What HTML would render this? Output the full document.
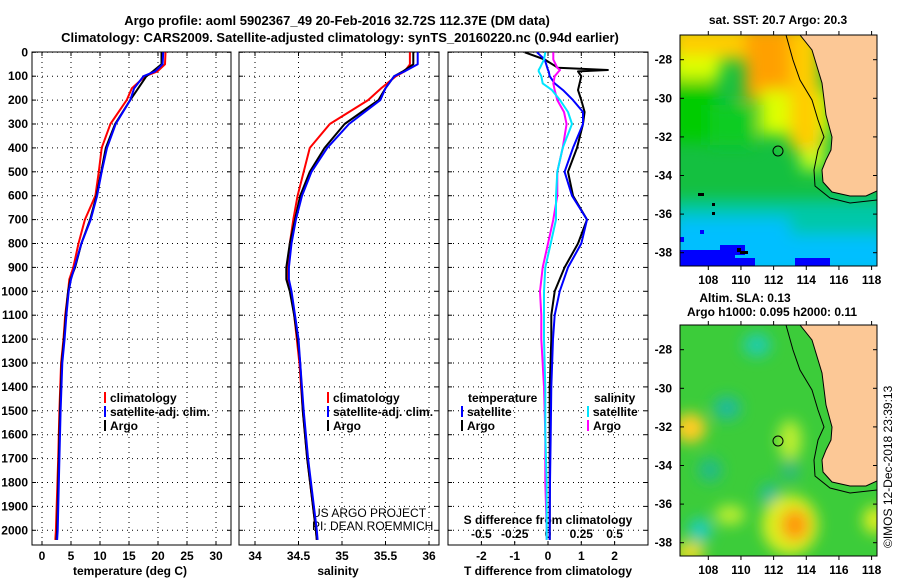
<!DOCTYPE html>
<html><head><meta charset="utf-8"><style>
html,body{margin:0;padding:0;background:#fff;}
svg{display:block;font-family:"Liberation Sans",Arial,sans-serif;font-weight:bold;}
</style></head><body>
<svg id="chart" width="900" height="580" viewBox="0 0 900 580">
<defs>
<filter id="bl" x="-50%" y="-50%" width="200%" height="200%"><feGaussianBlur stdDeviation="7"/></filter>
<filter id="bl2" x="-20%" y="-20%" width="140%" height="140%" filterUnits="objectBoundingBox"><feGaussianBlur stdDeviation="8"/></filter>
<clipPath id="m1"><rect x="680" y="35" width="197" height="231"/></clipPath>
<clipPath id="m2"><rect x="680" y="325" width="197" height="231"/></clipPath>
</defs>
<text x="337" y="25" font-size="13" text-anchor="middle">Argo profile: aoml 5902367_49 20-Feb-2016 32.72S 112.37E (DM data)</text>
<text x="340" y="42" font-size="13" text-anchor="middle">Climatology: CARS2009. Satellite-adjusted climatology: synTS_20160220.nc (0.94d earlier)</text>

<g>
<text x="778" y="24" font-size="12" text-anchor="middle">sat. SST: 20.7 Argo: 20.3</text>
<g clip-path="url(#m1)">
<rect x="680" y="35" width="197" height="231" fill="#14c040"/>
<g filter="url(#bl2)">
<rect x="670" y="200" width="220" height="80" fill="#00c8a8"/>
<rect x="670" y="218" width="120" height="60" fill="#00bfff"/>
<rect x="780" y="235" width="110" height="40" fill="#00bfff"/>
<rect x="670" y="82" width="45" height="60" fill="#00cc00"/>
<rect x="710" y="105" width="45" height="40" fill="#11cc22"/>
<rect x="670" y="25" width="130" height="35" fill="#ffcc00"/>
<rect x="670" y="55" width="50" height="25" fill="#ddff00"/>
<rect x="745" y="25" width="70" height="75" fill="#ffa000"/>
<rect x="760" y="90" width="70" height="45" fill="#ddff00"/>
<rect x="800" y="130" width="25" height="40" fill="#ccff22"/>
<rect x="790" y="30" width="30" height="120" fill="#ffcc00"/>
</g>
<g fill="#0000ff">
<rect x="680" y="250" width="55" height="16"/><rect x="720" y="245" width="25" height="10"/><rect x="735" y="258" width="20" height="8"/>
<rect x="795" y="258" width="35" height="8"/><rect x="680" y="237" width="4" height="5"/><rect x="700" y="230" width="4" height="4"/>
</g>
<g fill="#000"><rect x="698" y="193" width="6" height="3"/><rect x="712" y="203" width="3" height="3"/><rect x="712" y="212" width="3" height="3"/><rect x="737" y="248" width="4" height="4"/><rect x="740" y="251" width="8" height="3"/></g>
<polygon points="800,35 812,50 822,83 826,115 832,137 831,150 826,160 822,170 823,182 832,192 850,196 866,196 877,191 877,35" fill="#fcc896"/>
<polyline points="786,35 793,60 800,80 812,100 818,120 824,137 818,150 814,170 815,186 830,198 850,203 877,200" fill="none" stroke="#000" stroke-width="1"/>
<polyline points="800,35 812,50 822,83 826,115 832,137 831,150 826,160 822,170 823,182 832,192 850,196 866,196 877,191" fill="none" stroke="#000" stroke-width="1"/>
<circle cx="778" cy="151" r="5" fill="none" stroke="#000"/>
</g>
<rect x="680" y="35" width="197" height="231" fill="none" stroke="#000"/>
</g>

<g>
<text x="745" y="302" font-size="12" text-anchor="middle">Altim. SLA: 0.13</text>
<text x="772" y="316" font-size="12" text-anchor="middle">Argo h1000: 0.095 h2000: 0.11</text>
<g clip-path="url(#m2)">
<rect x="680" y="325" width="197" height="231" fill="#3ccc3a"/>
<g filter="url(#bl)">
<ellipse cx="757" cy="345" rx="14" ry="12" fill="#22ccaa"/>
<ellipse cx="727" cy="408" rx="14" ry="12" fill="#22bb99"/>
<ellipse cx="710" cy="470" rx="12" ry="12" fill="#22bb88"/>
<ellipse cx="770" cy="495" rx="10" ry="12" fill="#22bb99"/>
<ellipse cx="700" cy="530" rx="12" ry="12" fill="#22ccbb"/>
<ellipse cx="790" cy="470" rx="10" ry="12" fill="#33bb77"/>
<ellipse cx="690" cy="428" rx="16" ry="15" fill="#ffcc22"/>
<ellipse cx="790" cy="525" rx="28" ry="30" fill="#ddee22"/>
<ellipse cx="795" cy="525" rx="14" ry="16" fill="#ff9911"/>
<ellipse cx="790" cy="440" rx="12" ry="20" fill="#bbee33"/>
<ellipse cx="690" cy="552" rx="15" ry="10" fill="#eedd22"/>
<ellipse cx="875" cy="520" rx="12" ry="14" fill="#ddee22"/>
<ellipse cx="730" cy="515" rx="15" ry="10" fill="#bbee33"/>
</g>
<polygon points="800,325 812,340 822,373 826,405 832,427 831,440 826,450 822,460 823,472 832,482 850,486 866,486 877,481 877,325" fill="#fcc896"/>
<polyline points="786,325 793,350 800,370 812,390 818,410 824,427 818,440 814,460 815,476 830,488 850,493 877,490" fill="none" stroke="#000"/>
<polyline points="800,325 812,340 822,373 826,405 832,427 831,440 826,450 822,460 823,472 832,482 850,486 866,486 877,481" fill="none" stroke="#000"/>
<circle cx="778" cy="441" r="5" fill="none" stroke="#000"/>
</g>
<rect x="680" y="325" width="197" height="231" fill="none" stroke="#000"/>
</g>
<text transform="translate(892,548) rotate(-90)" font-size="12" font-weight="normal">©IMOS 12-Dec-2018 23:39:13</text>
<g id="dyn"></g>
</svg>
<script>
const profDepths=[0,50,80,100,150,200,300,400,500,600,700,800,900,950,1000,1100,1200,1300,1500,1700,2000,2040];
const tempArgo=[20.6,20.6,19.1,18.0,16.6,15.2,12.6,11.0,10.2,9.4,8.3,6.8,5.7,4.9,4.5,4.1,3.8,3.4,3.1,2.9,2.6,2.5];
const tempSat=[20.9,20.8,19.5,17.5,15.9,15.2,12.7,11.2,10.3,9.5,8.4,6.8,5.6,5.0,4.6,4.2,3.9,3.5,3.2,3.0,2.7,2.6];
const tempClim=[21.3,21.2,19.9,17.8,15.5,14.6,11.8,10.3,9.8,9.2,7.4,6.3,5.4,4.7,4.5,4.0,3.7,3.3,3.0,2.8,2.4,2.3];
const salArgo=[35.82,35.82,35.7,35.6,35.5,35.42,35.03,34.8,34.63,34.52,34.46,34.4,34.36,34.36,34.4,34.45,34.49,34.52,34.55,34.6,34.7,34.71];
const salSat=[35.87,35.87,35.72,35.6,35.5,35.44,35.08,34.83,34.65,34.54,34.47,34.42,34.39,34.39,34.42,34.46,34.5,34.52,34.56,34.61,34.71,34.72];
const salClim=[35.78,35.78,35.72,35.62,35.45,35.3,34.86,34.63,34.56,34.49,34.44,34.4,34.38,34.38,34.41,34.45,34.48,34.51,34.55,34.6,34.7,34.71];
const diffDepths=[0,30,65,74,80,100,130,158,200,250,300,400,500,600,700,800,900,1000,1100,1200,1400,1600,1800,2000,2040];
const tDiffArgo=[-0.7,-0.1,0.3,1.8,0.9,1.0,0.95,0.9,1.0,1.1,1.05,0.87,0.6,0.75,1.17,0.9,0.5,0.2,0.1,0.1,0.05,0.05,0.05,0.05,0.05];
const tDiffSat=[-0.33,-0.1,-0.02,0.0,0.02,0.05,0.2,0.45,0.75,1.05,1.05,0.75,0.5,0.72,1.17,1.0,0.6,0.35,0.2,0.15,0.1,0.08,0.06,0.05,0.05];
const sDiffArgo=[0.04,0.04,0.07,0.09,0.08,0.05,0.04,0.05,0.07,0.12,0.14,0.11,0.07,0.07,0.04,0.0,-0.04,-0.06,-0.05,-0.05,-0.03,-0.02,-0.02,-0.01,-0.01];
const sDiffSat=[-0.02,-0.03,-0.06,-0.07,-0.07,-0.05,-0.04,0.03,0.09,0.15,0.18,0.11,0.07,0.06,0.06,0.02,-0.02,-0.03,-0.03,-0.03,-0.02,-0.02,-0.01,-0.01,-0.01];
const depthTicks=[0,100,200,300,400,500,600,700,800,900,1000,1100,1200,1300,1400,1500,1600,1700,1800,1900,2000];
const tempTicks=[0,5,10,15,20,25,30];
const salTicks=[34,34.5,35,35.5,36];
const tDiffTicks=[-2,-1,0,1,2];
const sDiffTicks=[-0.5,-0.25,0,0.25,0.5];
const sDiffTickLabels=["-0.5","-0.25","0","0.25","0.5"];
const latTicks=[-28,-30,-32,-34,-36,-38];
const lonTicks=[108,110,112,114,116,118];

const NS='http://www.w3.org/2000/svg';
const dyn=document.getElementById('dyn');
function mk(tag,attrs,parent){const e=document.createElementNS(NS,tag);for(const k in attrs)e.setAttribute(k,attrs[k]);(parent||dyn).appendChild(e);return e;}
const TOP=52,BOT=545;
function yD(d){return 52.3+d*0.239;}
function xT(t){return 42+t*5.8;}
function xS(s){return 255+(s-34)*87;}
function xTd(v){return 548+v*33.3;}
function xSd(v){return 548+v*133.2;}
function lonX(l){return 708.3+(l-108)*16.33;}
function latY(l,off){return 59.7+(-28-l)*19.3+off;}

const panels=[{x0:32,x1:231,name:'temperature-panel'},{x0:239,x1:439,name:'salinity-panel'},{x0:448,x1:648,name:'difference-panel'}];
panels.forEach((p,i)=>{
  const g=mk('g',{});
  
  
  depthTicks.forEach(d=>{
    const y=yD(d);
    const l=mk('line',{x1:p.x0,x2:p.x1,y1:y,y2:y,stroke:'#000','stroke-dasharray':'1,4','stroke-width':1},g);
    
    
    mk('line',{x1:p.x0,x2:p.x0+4,y1:y,y2:y,stroke:'#000'},g);
    mk('line',{x1:p.x1-4,x2:p.x1,y1:y,y2:y,stroke:'#000'},g);
  });
  let ticks=i===0?tempTicks:i===1?salTicks:tDiffTicks;
  let fx=i===0?xT:i===1?xS:xTd;
  ticks.forEach(t=>{
    const x=fx(t);
    const l=mk('line',{x1:x,x2:x,y1:TOP,y2:BOT,stroke:'#000','stroke-dasharray':'1,4'},g);
    
    
    mk('line',{x1:x,x2:x,y1:BOT-4,y2:BOT,stroke:'#000'},g);
    mk('line',{x1:x,x2:x,y1:TOP,y2:TOP+4,stroke:'#000'},g);
    const tx=mk('text',{x:x,y:560,'font-size':12,'text-anchor':'middle'},g);
    tx.textContent=String(t);
    
    
  });
  const r=mk('rect',{x:p.x0,y:TOP,width:p.x1-p.x0,height:BOT-TOP,fill:'none',stroke:'#000'},g);
  
  
});
depthTicks.forEach(d=>{
  const t=mk('text',{x:28,y:yD(d)+4,'font-size':12,'text-anchor':'end'});
  t.textContent=String(d);
  
  
});
sDiffTicks.forEach((v,i)=>{
  const t=mk('text',{x:xSd(v),y:538,'font-size':12,'text-anchor':'middle'});
  t.textContent=sDiffTickLabels[i];
  
  
});
function label(x,y,txt,name,anchor,size,weight){
  const t=mk('text',{x:x,y:y,'font-size':size||12,'text-anchor':anchor||'middle'});
  if(weight)t.setAttribute('font-weight',weight);
  t.textContent=txt;
  
  
  return t;
}
label(130,575,'temperature (deg C)','x-axis-title-temperature');
label(338,575,'salinity','x-axis-title-salinity');
label(548,575,'T difference from climatology','x-axis-title-t-diff');
label(548,524,'S difference from climatology','s-diff-axis-title');
label(312,517,'US ARGO PROJECT','credit-project','start',12,'normal');
label(312,530,'PI: DEAN ROEMMICH','credit-pi','start',12,'normal');

function series(xs,ds,fx,color,name,w){
  const pts=xs.map((v,i)=>fx(v).toFixed(1)+','+yD(ds[i]).toFixed(1)).join(' ');
  const pl=mk('polyline',{points:pts,fill:'none',stroke:color,'stroke-width':w||2,'stroke-linejoin':'round'});
  
  
}
series(tempClim,profDepths,xT,'#ff0000','temp-climatology-line');
series(tempArgo,profDepths,xT,'#000','temp-argo-line');
series(tempSat,profDepths,xT,'#0000ff','temp-satellite-line');
series(salClim,profDepths,xS,'#ff0000','sal-climatology-line');
series(salArgo,profDepths,xS,'#000','sal-argo-line');
series(salSat,profDepths,xS,'#0000ff','sal-satellite-line');
series(tDiffArgo,diffDepths,xTd,'#000','t-diff-argo-line');
series(tDiffSat,diffDepths,xTd,'#0000ff','t-diff-satellite-line');
series(sDiffArgo,diffDepths,xSd,'#ff00ff','s-diff-argo-line');
series(sDiffSat,diffDepths,xSd,'#00e5ff','s-diff-satellite-line');

function legend(x,y,color,txt,name){
  const g=mk('g',{});
  
  
  mk('rect',{x:x,y:y-10,width:2,height:11,fill:color},g);
  const t=mk('text',{x:x+6,y:y,'font-size':12},g);
  t.textContent=txt;
}
legend(104,402,'#ff0000','climatology','legend-temp-climatology');
legend(104,416,'#0000ff','satellite-adj. clim.','legend-temp-satellite');
legend(104,430,'#000','Argo','legend-temp-argo');
legend(327,402,'#ff0000','climatology','legend-sal-climatology');
legend(327,416,'#0000ff','satellite-adj. clim.','legend-sal-satellite');
legend(327,430,'#000','Argo','legend-sal-argo');
label(468,402,'temperature','legend-diff-temperature-header','start');
legend(461,416,'#0000ff','satellite','legend-tdiff-satellite');
legend(461,430,'#000','Argo','legend-tdiff-argo');
label(594,402,'salinity','legend-diff-salinity-header','start');
legend(587,416,'#00e5ff','satellite','legend-sdiff-satellite');
legend(587,430,'#ff00ff','Argo','legend-sdiff-argo');

[0,290].forEach((off)=>{
  latTicks.forEach(l=>{
    const y=latY(l,off);
    label(672,y+4,String(l),'lat-tick-label','end');
    mk('line',{x1:680,x2:684,y1:y,y2:y,stroke:'#000'});
    mk('line',{x1:873,x2:877,y1:y,y2:y,stroke:'#000'});
  });
  lonTicks.forEach(l=>{
    const x=lonX(l);
    label(x,off+284,String(l),'lon-tick-label');
    mk('line',{x1:x,x2:x,y1:off+31,y2:off+35,stroke:'#000'});
    mk('line',{x1:x,x2:x,y1:off+266,y2:off+270,stroke:'#000'});
  });
});
</script>
</body></html>
